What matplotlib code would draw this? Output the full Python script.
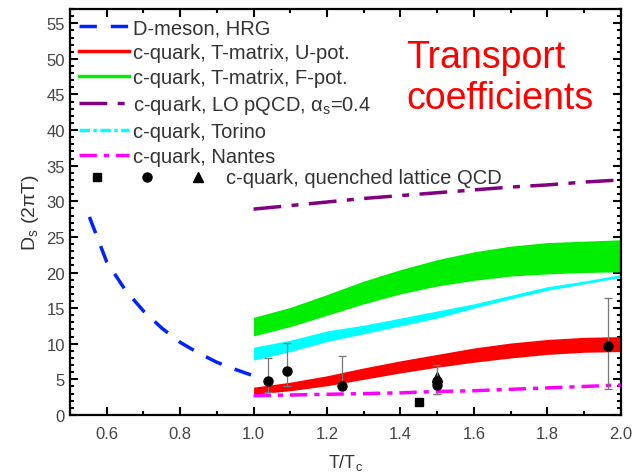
import matplotlib
matplotlib.use('Agg')
import matplotlib.pyplot as plt
from matplotlib.lines import Line2D
from matplotlib.ticker import MultipleLocator
import numpy as np

plt.rcParams['font.family'] = ['Liberation Sans', 'DejaVu Sans']
plt.rcParams['mathtext.fontset'] = 'custom'
plt.rcParams['mathtext.rm'] = 'Liberation Sans'
plt.rcParams['mathtext.it'] = 'Liberation Sans'

# D-meson, hadron resonance gas
hrg_t = [0.553, 0.6, 0.65, 0.7, 0.75, 0.8, 0.85, 0.9, 0.95, 1.0]
hrg_d = [27.8, 21.5, 17.6, 14.6, 12.2, 10.2, 8.7, 7.4, 6.4, 5.5]

# c-quark bands and curves on a common grid
band_t = [1.0, 1.1, 1.2, 1.3, 1.4, 1.5, 1.6, 1.7, 1.8, 1.9, 2.0]
upot_lo = [2.9, 3.4, 4.1, 5.0, 5.9, 6.7, 7.4, 8.0, 8.5, 8.8, 8.9]
upot_hi = [3.9, 4.6, 5.5, 6.6, 7.6, 8.5, 9.4, 10.1, 10.6, 10.9, 11.0]
fpot_lo = [11.1, 12.4, 14.0, 15.6, 17.0, 18.1, 18.9, 19.5, 19.8, 20.0, 20.1]
fpot_hi = [13.7, 15.1, 16.9, 18.8, 20.4, 21.8, 22.9, 23.7, 24.2, 24.4, 24.6]
torino_lo = [7.7, 8.9, 10.3, 11.4, 12.5, 13.6, 15.0, 16.3, 17.5, 18.4, 19.3]
torino_hi = [9.5, 10.5, 11.8, 12.6, 13.6, 14.6, 15.6, 16.8, 18.0, 18.8, 19.7]
pqcd_d = [28.9, 29.4, 29.9, 30.4, 30.8, 31.2, 31.6, 32.0, 32.3, 32.7, 33.0]
nantes_d = [2.7, 2.8, 2.9, 3.0, 3.1, 3.3, 3.4, 3.6, 3.8, 4.0, 4.2]

# quenched lattice QCD points
circ_t = [1.04, 1.09, 1.24, 1.50, 1.50, 1.965]
circ_d = [4.8, 6.2, 4.0, 4.2, 4.7, 9.7]
circ_lo = [3.2, 4.1, 3.9, 2.9, 2.9, 3.6]
circ_hi = [8.0, 10.1, 8.3, 7.0, 7.0, 16.4]
sq_t = [1.45]
sq_d = [1.8]
tri_t = [1.50]
tri_d = [5.3]

fig = plt.figure(figsize=(6.36, 4.77), dpi=100)
ax = fig.add_axes([0.110, 0.128, 0.866, 0.851])

ax.fill_between(band_t, fpot_lo, fpot_hi, color='#00ee00', lw=0, zorder=2)
ax.fill_between(band_t, upot_lo, upot_hi, color='#ff0000', lw=0, zorder=2)
ax.fill_between(band_t, torino_lo, torino_hi, color='#00ffff', lw=0, zorder=2)
ax.plot(band_t, pqcd_d, color='#800080', lw=2.5, dashes=(8, 3, 2, 3), zorder=3)
ax.plot(band_t, nantes_d, color='#ff00ff', lw=2.5, dashes=(5, 2, 1.5, 2), zorder=3)
ax.plot(hrg_t, hrg_d, color='#0022ff', lw=2.5, dashes=(5, 4), zorder=3)

yerr = [np.array(circ_d) - np.array(circ_lo), np.array(circ_hi) - np.array(circ_d)]
ax.errorbar(circ_t, circ_d, yerr=yerr, fmt='o', color='black', ms=6.5,
            ecolor='#777777', elinewidth=0.9, capsize=3, capthick=0.9, zorder=5)
ax.plot(sq_t, sq_d, 's', color='black', ms=6, zorder=5)
ax.plot(tri_t, tri_d, '^', color='black', ms=6.5, zorder=4)

ax.set_xlim(0.5, 2.0)
ax.set_ylim(0, 57)
ax.xaxis.set_minor_locator(MultipleLocator(0.1))
ax.yaxis.set_major_locator(MultipleLocator(5))
ax.yaxis.set_minor_locator(MultipleLocator(1))
ax.set_xticks([0.6, 0.8, 1.0, 1.2, 1.4, 1.6, 1.8, 2.0])
ax.set_xticklabels(['0.6', '0.8', '1.0', '1.2', '1.4', '1.6', '1.8', '2.0'])
ax.tick_params(which='both', direction='in', top=True, right=True,
               labelsize=12, labelcolor='#444444', width=1.5)
ax.tick_params(which='major', length=6)
ax.tick_params(which='minor', length=3)
ax.tick_params(axis='x', pad=8)
for s in ax.spines.values():
    s.set_linewidth(1.6)

ax.set_xlabel('T/T$_{\\rm c}$', fontsize=13, color='#333333', labelpad=8)
ax.set_ylabel('D$_{\\rm s}$ (2$\\pi$T)', fontsize=14, color='#333333', labelpad=4)

handles = [
    Line2D([], [], color='#0022ff', lw=2.5, dashes=(5, 4)),
    Line2D([], [], color='#ff0000', lw=2.5),
    Line2D([], [], color='#00ee00', lw=2.5),
    Line2D([], [], color='#800080', lw=2.5, dashes=(8, 3, 2, 3)),
    Line2D([], [], color='#00ffff', lw=2.5, dashes=(3, 1, 1, 1)),
    Line2D([], [], color='#ff00ff', lw=2.5, dashes=(5, 2, 1.5, 2)),
]
labels = ['D-meson, HRG', 'c-quark, T-matrix, U-pot.', 'c-quark, T-matrix, F-pot.',
          'c-quark, LO pQCD, $\\alpha_{\\rm s}$=0.4', 'c-quark, Torino', 'c-quark, Nantes']
leg = ax.legend(handles, labels, loc='upper left', frameon=False, fontsize=14.5,
                handlelength=2.5, handletextpad=0.2, labelspacing=0.3,
                borderaxespad=0.25, borderpad=0.2)
for t in leg.get_texts():
    t.set_color('#333333')

ly = 0.586
ax.plot([0.05], [ly], 's', color='black', ms=6, transform=ax.transAxes, clip_on=False)
ax.plot([0.14], [ly], 'o', color='black', ms=6.5, transform=ax.transAxes, clip_on=False)
ax.plot([0.233], [ly], '^', color='black', ms=6.5, transform=ax.transAxes, clip_on=False)
ax.text(0.283, ly, 'c-quark, quenched lattice QCD', transform=ax.transAxes,
        fontsize=14.5, color='#333333', va='center', ha='left')

ax.text(0.61, 0.926, 'Transport\ncoefficients', transform=ax.transAxes,
        fontsize=27, color='red', va='top', ha='left', linespacing=1.16)

plt.savefig('out.png', dpi=100)
